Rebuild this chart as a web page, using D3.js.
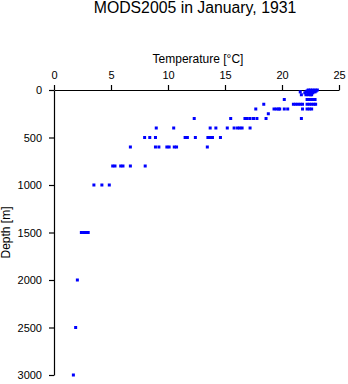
<!DOCTYPE html>
<html>
<head>
<meta charset="utf-8">
<script src="https://cdn.jsdelivr.net/npm/d3@7"></script>
<style>
  html, body { margin: 0; padding: 0; background: #fff; }
  svg text { font-family: "Liberation Sans", Arial, Helvetica, sans-serif; fill: #000; }
</style>
</head>
<body>
<svg id="chart" width="348" height="384"></svg>
<script>
// Sampled depth levels [m]
const depths = [0, 10, 20, 30, 50, 100, 150, 200, 250, 300, 400, 500, 600, 800, 1000, 1500, 2000, 2500, 3000];

// Temperatures [°C] observed at each depth level (same order as depths)
const temps0    = [22.3, 22.5, 22.7, 22.9, 23.1];
const temps10   = [22.2, 22.4, 22.6, 22.8, 23.0];
const temps20   = [21.6, 22.1, 22.4, 22.7, 22.9];
const temps30   = [22.0, 22.3, 22.5, 22.7];
const temps50   = [21.7, 22.1, 22.3, 22.5, 22.6];
const temps100  = [20.2, 22.2, 22.4, 22.6, 22.8, 22.9];
const temps150  = [18.4, 21.0, 21.2, 21.4, 21.6, 21.8, 22.2, 22.4, 22.6, 22.8, 22.95];
const temps200  = [17.7, 19.3, 19.5, 19.7, 19.8, 20.2, 20.5, 21.8, 22.2, 22.4, 22.6];
const temps250  = [18.8];
const temps300  = [12.3, 15.5, 16.75, 16.95, 17.2, 17.5, 17.8, 18.6, 21.7];
const temps400  = [8.97, 10.5, 13.7, 14.2, 15.2, 15.8, 16.1, 16.3, 16.5, 17.2];
const temps500  = [7.95, 8.4, 8.9, 11.5, 11.7, 12.4, 13.5, 13.7, 13.9, 14.6];
const temps600  = [6.7, 8.9, 9.2, 9.9, 10.1, 10.55, 10.75, 13.45];
const temps800  = [5.15, 5.35, 5.85, 6.05, 6.7, 8.0];
const temps1000 = [3.5, 4.2, 4.85];
const temps1500 = [2.4, 2.6, 2.8, 3.0];
const temps2000 = [2.05];
const temps2500 = [1.9];
const temps3000 = [1.7];

const tempsByDepth = [temps0, temps10, temps20, temps30, temps50, temps100, temps150, temps200,
  temps250, temps300, temps400, temps500, temps600, temps800, temps1000, temps1500,
  temps2000, temps2500, temps3000];

// Axis ticks
const tempTicks = [0, 5, 10, 15, 20, 25];
const depthTicks = [0, 500, 1000, 1500, 2000, 2500, 3000];

const title = "MODS2005 in January, 1931";
const xTitle = "Temperature [°C]";
const yTitle = "Depth [m]";

// Flatten into (depth, temperature) observations
const obs = [];
depths.forEach((d, i) => tempsByDepth[i].forEach(t => obs.push({ depth: d, temp: t })));

const svg = d3.select("#chart");
const plotLeft = 54, plotTop = 90, plotRight = 339, plotBottom = 375;

const x = d3.scaleLinear().domain([0, 25]).range([plotLeft, plotRight]);
const y = d3.scaleLinear().domain([0, 3000]).range([plotTop, plotBottom]);

// Temperature axis along the top
const xAxis = svg.append("g")
  .attr("transform", `translate(0,${plotTop})`)
  .call(d3.axisTop(x).tickValues(tempTicks).tickFormat(d3.format("d"))
    .tickSize(5).tickPadding(6).tickSizeOuter(0));

// Depth axis on the left, increasing downward
const yAxis = svg.append("g")
  .attr("transform", `translate(${plotLeft},0)`)
  .call(d3.axisLeft(y).tickValues(depthTicks).tickFormat(d3.format("d"))
    .tickSize(5).tickPadding(7).tickSizeOuter(0));

[xAxis, yAxis].forEach(g => {
  g.select(".domain").attr("stroke", "#000").attr("stroke-width", 1.2);
  g.selectAll(".tick line").attr("stroke", "#000").attr("stroke-width", 1.2);
  g.selectAll(".tick text")
    .attr("font-family", "'Liberation Sans', Arial, sans-serif")
    .attr("font-size", 11)
    .attr("fill", "#000");
});

// Observations as small blue square markers
svg.append("g")
  .selectAll("rect")
  .data(obs)
  .join("rect")
  .attr("x", d => x(d.temp) - 1.5)
  .attr("y", d => y(d.depth) - 1.5)
  .attr("width", 3)
  .attr("height", 3)
  .attr("fill", "#0000ff");

// Titles
svg.append("text")
  .attr("x", 195).attr("y", 12.5)
  .attr("text-anchor", "middle")
  .attr("font-size", 15.8)
  .text(title);

svg.append("text")
  .attr("x", 198).attr("y", 62.5)
  .attr("text-anchor", "middle")
  .attr("font-size", 12)
  .text(xTitle);

svg.append("text")
  .attr("transform", `translate(10,${(plotTop + plotBottom) / 2}) rotate(-90)`)
  .attr("text-anchor", "middle")
  .attr("font-size", 12)
  .text(yTitle);
</script>
</body>
</html>
